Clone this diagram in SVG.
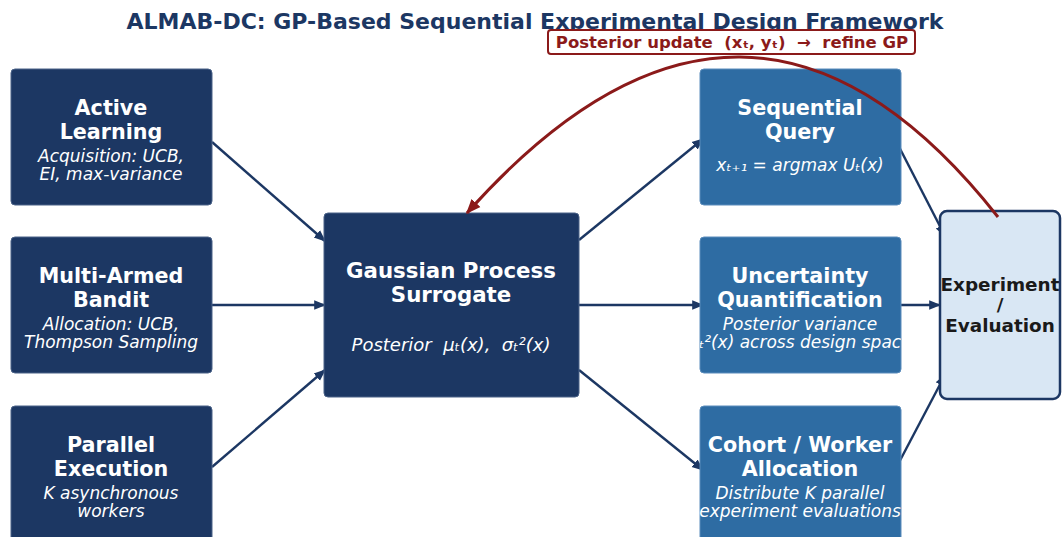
<svg xmlns="http://www.w3.org/2000/svg" width="1062" height="537" viewBox="0 0 1062 537">
<style>
text{font-family:"DejaVu Sans","Liberation Sans",sans-serif;text-anchor:middle;dominant-baseline:central;white-space:pre}
.t{font-weight:bold;font-size:20.7px;fill:#fff}
.s{font-style:italic;font-size:17px;fill:#fff}
.dk{fill:#1c3763;stroke:#4a6288;stroke-width:1}
.md{fill:#2e6ca3;stroke:#5a8cbc;stroke-width:1}
.ar{stroke:#1c3763;stroke-width:2.4;fill:none;marker-end:url(#ah)}
</style>
<defs>
<marker id="ah" viewBox="0 0 10 10" refX="9" refY="5" markerWidth="5" markerHeight="5" orient="auto" markerUnits="strokeWidth"><path d="M0,1 L10,5 L0,9 z" fill="#1c3763"/></marker>
<marker id="ahr" viewBox="0 0 10 10" refX="9" refY="5" markerWidth="5" markerHeight="5" orient="auto" markerUnits="strokeWidth"><path d="M0,1 L10,5 L0,9 z" fill="#8b1a1a"/></marker>
<clipPath id="cuq"><rect x="700" y="237" width="201" height="136"/></clipPath>
</defs>
<rect width="1062" height="537" fill="#fff"/>
<text x="535" y="21" style="font-weight:bold;font-size:22px;fill:#1c3763">ALMAB-DC: GP-Based Sequential Experimental Design Framework</text>

<g id="connectors">
<line class="ar" x1="212" y1="142" x2="325" y2="241"/>
<line class="ar" x1="212" y1="305" x2="325" y2="305"/>
<line class="ar" x1="212" y1="467" x2="325" y2="370"/>
<line class="ar" x1="579" y1="240" x2="703" y2="139"/>
<line class="ar" x1="579" y1="305" x2="703" y2="305"/>
<line class="ar" x1="579" y1="370" x2="703" y2="470"/>
<line class="ar" x1="895" y1="139" x2="945" y2="236"/>
<line class="ar" x1="901" y1="305" x2="940" y2="305"/>
<line class="ar" x1="895" y1="470" x2="945" y2="375"/>
</g>

<g id="active-learning">
<rect class="dk" x="11" y="69" width="201" height="136" rx="4"/>
<text class="t" x="111" y="108">Active</text>
<text class="t" x="111" y="132">Learning</text>
<text class="s" x="111" y="156">Acquisition: UCB,</text>
<text class="s" x="111" y="174">EI, max-variance</text>
</g>
<g id="mab">
<rect class="dk" x="11" y="237" width="201" height="136" rx="4"/>
<text class="t" x="111" y="276">Multi-Armed</text>
<text class="t" x="111" y="300">Bandit</text>
<text class="s" x="111" y="324">Allocation: UCB,</text>
<text class="s" x="111" y="342">Thompson Sampling</text>
</g>
<g id="parallel">
<rect class="dk" x="11" y="406" width="201" height="140" rx="4"/>
<text class="t" x="111" y="445">Parallel</text>
<text class="t" x="111" y="469">Execution</text>
<text class="s" x="111" y="493">K asynchronous</text>
<text class="s" x="111" y="511">workers</text>
</g>
<g id="gp">
<rect class="dk" x="324" y="213" width="255" height="184" rx="4"/>
<text class="t" x="451" y="270" style="font-size:21.3px">Gaussian Process</text>
<text class="t" x="451" y="294" style="font-size:21.3px">Surrogate</text>
<text class="s" x="451" y="344" style="font-size:18px">Posterior  μₜ(x),  σₜ²(x)</text>
</g>
<g id="seq-query">
<rect class="md" x="700" y="69" width="201" height="136" rx="4"/>
<text class="t" x="800" y="108">Sequential</text>
<text class="t" x="800" y="132">Query</text>
<text class="s" x="800" y="165">xₜ₊₁ = argmax Uₜ(x)</text>
</g>
<g id="uq">
<rect class="md" x="700" y="237" width="201" height="136" rx="4"/>
<text class="t" x="800" y="276">Uncertainty</text>
<text class="t" x="800" y="300">Quantification</text>
<text class="s" x="800" y="324">Posterior variance</text>
<text class="s" x="800" y="342" clip-path="url(#cuq)">σₜ²(x) across design space</text>
</g>
<g id="cohort">
<rect class="md" x="700" y="406" width="201" height="140" rx="4"/>
<text class="t" x="800" y="445">Cohort / Worker</text>
<text class="t" x="800" y="469">Allocation</text>
<text class="s" x="800" y="493">Distribute K parallel</text>
<text class="s" x="800" y="511">experiment evaluations</text>
</g>
<g id="experiment">
<rect x="940" y="211" width="120" height="188" rx="7" fill="#d9e7f4" stroke="#1c3763" stroke-width="2.5"/>
<text x="1000" y="284" style="font-weight:bold;font-size:18.4px;fill:#1a1a1a">Experiment</text>
<text x="1000" y="304" style="font-weight:bold;font-size:18.4px;fill:#1a1a1a">/</text>
<text x="1000" y="325" style="font-weight:bold;font-size:18.4px;fill:#1a1a1a">Evaluation</text>
</g>

<g id="feedback">
<path d="M998,217 Q747,-101 467,213" fill="none" stroke="#8b1a1a" stroke-width="3" marker-end="url(#ahr)"/>
<rect x="548" y="30" width="367" height="24" rx="3" fill="#fff" stroke="#8b1a1a" stroke-width="2"/>
<text x="732" y="42" style="font-weight:bold;font-size:16.5px;fill:#8b1a1a">Posterior update  (xₜ, yₜ)  →  refine GP</text>
</g>
</svg>
